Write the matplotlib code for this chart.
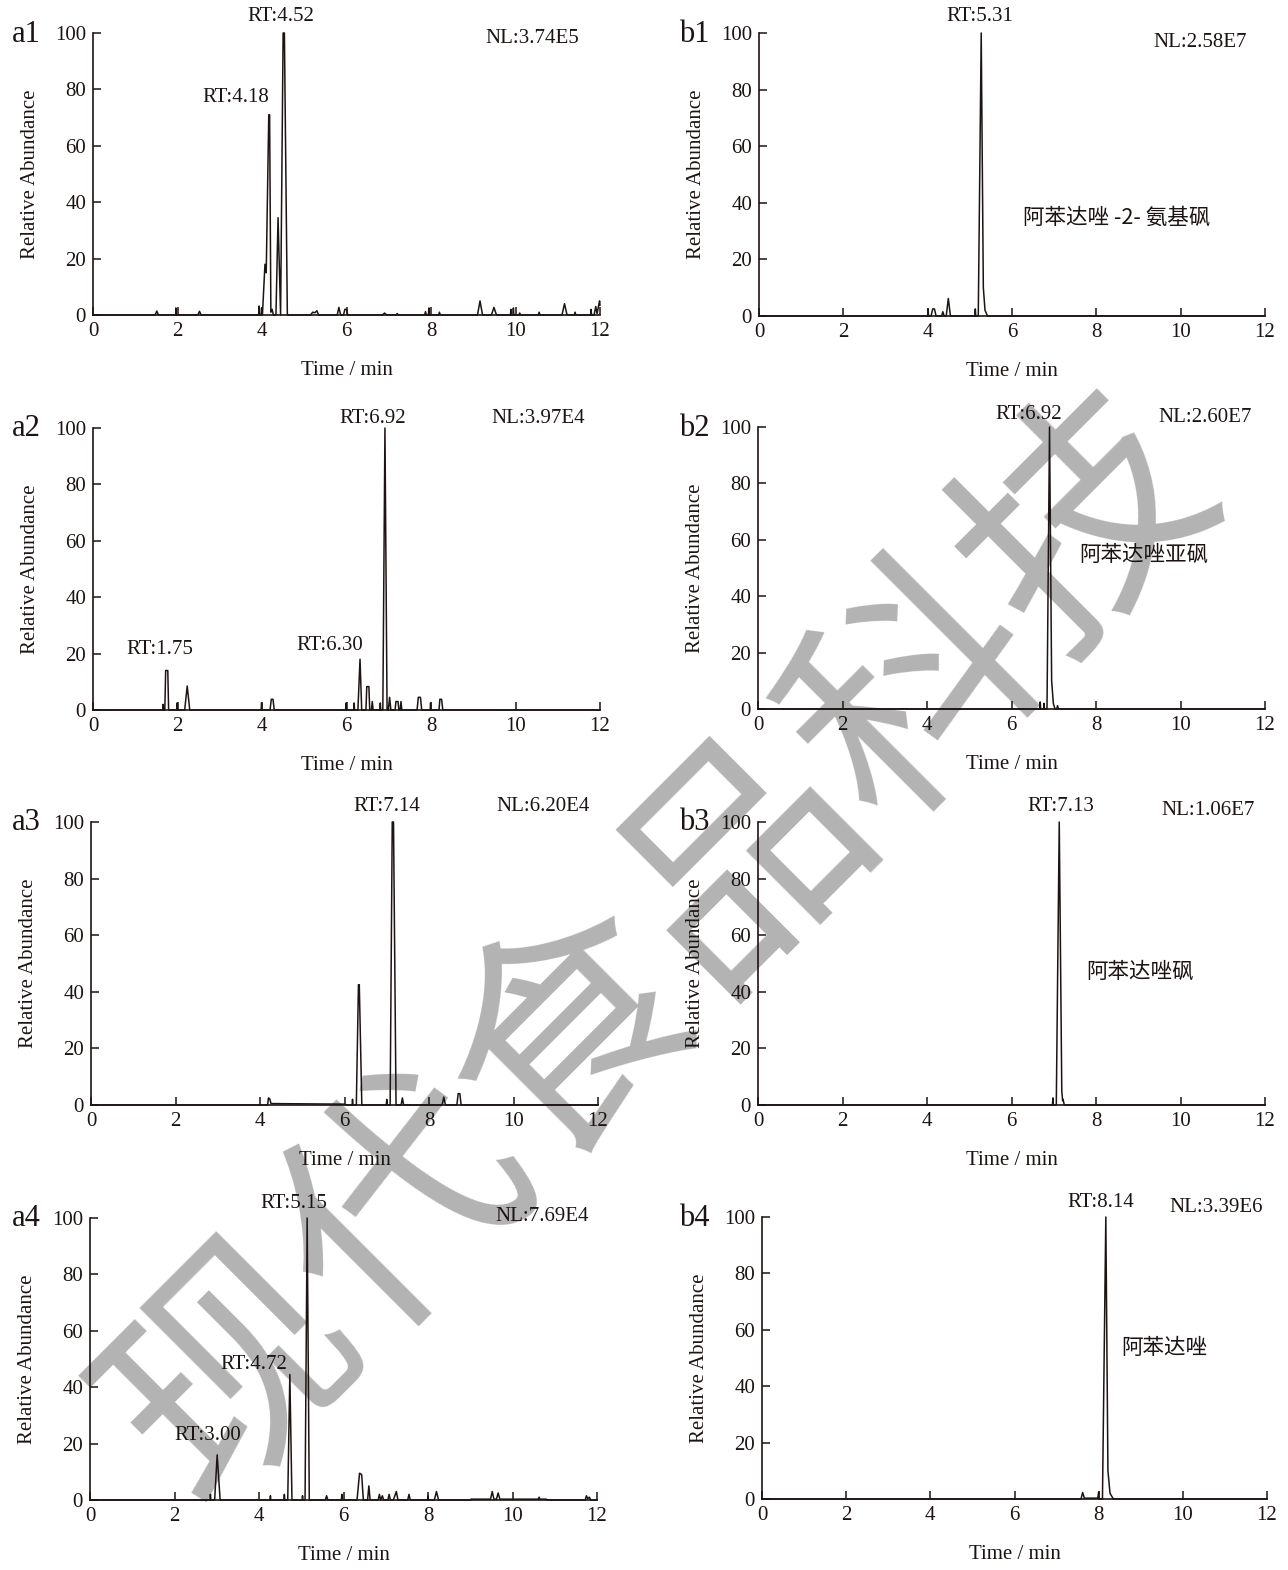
import matplotlib
matplotlib.use("Agg")
import matplotlib.pyplot as plt

plt.rcParams['font.family'] = ['Liberation Serif', 'Noto Sans CJK SC', 'DejaVu Sans']

# ---------------- data ----------------
A1_T = [0, 1.47, 1.51, 1.55, 1.96, 1.96, 1.97, 2.48, 2.52, 2.56, 3.92, 3.93, 3.94, 3.98, 3.99, 4.00,
        4.01, 4.07, 4.10, 4.16, 4.18, 4.21, 4.24, 4.27, 4.33, 4.38, 4.44, 4.50, 4.53, 4.60,
        5.15, 5.20, 5.25, 5.30, 5.34, 5.78, 5.82, 5.86, 5.93, 5.96, 6.00, 6.03, 6.85, 6.90, 6.95,
        7.17, 7.20, 7.23, 7.85, 7.87, 7.89, 7.94, 7.95, 7.96, 8.18, 8.20, 8.22, 9.10, 9.16, 9.22,
        9.43, 9.49, 9.55, 9.88, 9.89, 9.90, 9.94, 9.95, 9.96, 10.08, 10.10, 10.12, 10.54, 10.56, 10.58,
        11.10, 11.16, 11.22, 11.39, 11.41, 11.43, 11.78, 11.79, 11.80, 11.86, 11.90, 11.93, 11.99, 12.0]
A1_Y = [0, 0, 1.4, 0, 0, 2.5, 0, 0, 1.3, 0, 0, 3.2, 0, 0, 2.5, 0,
        0, 18, 15, 71, 71, 1, 2, 0, 0, 34.5, 0, 100, 100, 0,
        0, 1, 0.8, 1.5, 0, 0, 2.7, 0, 0, 2, 2, 0, 0, 0.7, 0,
        0, 0.5, 0, 0, 1.2, 0, 0, 2.5, 0, 0, 1, 0, 0, 5, 0,
        0, 2.7, 0, 0, 2, 0, 0, 2.5, 0, 0, 0.7, 0, 0, 1, 0,
        0, 4, 0, 0, 1, 0, 0, 2, 0, 0, 3, 0.5, 5, 3.5]

A2_T = [0, 1.65, 1.66, 1.67, 1.70, 1.72, 1.77, 1.79, 1.98, 1.99, 2.00, 2.17, 2.23, 2.29,
        3.98, 3.99, 4.00, 4.19, 4.22, 4.26, 4.29, 5.98, 5.99, 6.00, 6.17, 6.18, 6.19,
        6.27, 6.32, 6.36, 6.46, 6.48, 6.53, 6.55, 6.59, 6.61, 6.63, 6.79, 6.80, 6.81,
        6.86, 6.91, 6.96, 6.99, 7.02, 7.05, 7.15, 7.17, 7.22, 7.24, 7.27, 7.29, 7.31,
        7.67, 7.70, 7.75, 7.78, 7.98, 7.99, 8.00, 8.19, 8.21, 8.25, 8.28, 12.0]
A2_Y = [0, 0, 2, 0, 0, 14, 14, 0, 0, 2.5, 0, 0, 8.5, 0,
        0, 2.5, 0, 0, 3.8, 3.8, 0, 0, 2.5, 0, 0, 2.5, 0,
        0, 18, 0, 0, 8.3, 8.3, 0, 0, 3, 0, 0, 2.5, 0,
        0, 100, 0, 0, 4.5, 0, 0, 3, 3, 0, 0, 3, 0,
        0, 4.5, 4.5, 0, 0, 2.5, 0, 0, 3.8, 3.8, 0, 0]

A3_T = [0, 4.18, 4.20, 4.23, 4.26, 6.00, 6.05, 6.18, 6.19, 6.20, 6.28, 6.33, 6.35, 6.41,
        6.99, 7.00, 7.01, 7.08, 7.13, 7.16, 7.22, 7.34, 7.37, 7.40, 8.31, 8.35, 8.39,
        8.66, 8.69, 8.73, 8.76, 12.0]
A3_Y = [0, 0, 2.5, 2.2, 0.5, 0.3, 0, 0, 2, 0, 0, 42.5, 42.5, 0,
        0, 2, 0, 0, 100, 100, 0, 0, 2.5, 0, 0, 2.8, 0,
        0, 4, 4, 0, 0]

A4_T = [0, 2.84, 2.85, 2.86, 2.95, 3.01, 3.08, 4.26, 4.27, 4.28, 4.59, 4.60, 4.61,
        4.68, 4.73, 4.78, 5.02, 5.03, 5.04, 5.09, 5.14, 5.19, 5.57, 5.60, 5.63,
        5.95, 5.96, 5.97, 6.32, 6.38, 6.43, 6.47, 6.57, 6.60, 6.63, 6.82, 6.85, 6.88,
        6.92, 6.95, 7.05, 7.08, 7.11, 7.18, 7.25, 7.29, 7.52, 7.55, 7.58, 7.99, 8.00, 8.01,
        8.15, 8.20, 8.25, 9.00, 9.02, 9.48, 9.52, 9.56, 9.62, 9.66, 9.70, 10.61, 10.63, 10.65,
        10.80, 10.82, 11.72, 11.75, 11.78, 11.82, 11.85, 12.0]
A4_Y = [0, 0, 2, 0, 0, 16, 0, 0, 1.5, 0, 0, 2, 0,
        0, 44.5, 0, 0, 1.5, 0, 0, 100, 0, 0, 1.5, 0,
        0, 2, 0, 0, 9.5, 9, 0, 0, 5, 0, 0, 2, 0,
        1.5, 0, 0, 2, 0, 0, 3, 0, 0, 2, 0, 0, 1.5, 0,
        0, 3, 0, 0, 0.3, 0.3, 3, 0.3, 0.3, 2.5, 0.3, 0.3, 1, 0.3,
        0.3, 0, 0, 1.5, 0.5, 1, 0, 0]

B1_T = [0, 4.00, 4.01, 4.02, 4.08, 4.12, 4.16, 4.20, 4.33, 4.36, 4.39, 4.44, 4.49, 4.54,
        5.12, 5.13, 5.14, 5.20, 5.27, 5.32, 5.36, 5.42, 12.0]
B1_Y = [0, 0, 2.5, 0, 0, 2.5, 2.5, 0, 0, 1.5, 0, 0, 6.2, 0,
        0, 2.5, 0, 0, 100, 10, 2, 0, 0]

B2_T = [0, 6.67, 6.68, 6.69, 6.76, 6.77, 6.78, 6.84, 6.90, 6.95, 6.99, 7.03, 7.07, 7.09, 7.11, 12.0]
B2_Y = [0, 0, 2.5, 0, 0, 2, 0, 0, 100, 10, 2, 0, 0, 1.2, 0, 0]

B3_T = [0, 6.97, 6.98, 6.99, 7.06, 7.13, 7.19, 7.21, 7.22, 7.25, 12.0]
B3_Y = [0, 0, 2.5, 0, 0, 100, 5, 1.5, 2, 0, 0]

B4_T = [0, 7.58, 7.62, 7.66, 7.98, 8.00, 8.01, 8.09, 8.17, 8.22, 8.27, 8.35, 12.0]
B4_Y = [0, 0, 2.3, 0.3, 0.3, 2.5, 0, 0, 100, 10, 2, 0, 0]

PANEL_LABELS = ['a1', 'a2', 'a3', 'a4', 'b1', 'b2', 'b3', 'b4']
NL_TEXT = ['NL:3.74E5', 'NL:3.97E4', 'NL:6.20E4', 'NL:7.69E4',
           'NL:2.58E7', 'NL:2.60E7', 'NL:1.06E7', 'NL:3.39E6']
RT_LABELS = [
    [('RT:4.52', 4.45, 106), ('RT:4.18', 3.38, 77)],
    [('RT:6.92', 6.63, 103.5), ('RT:1.75', 1.59, 21.6), ('RT:6.30', 5.61, 22.7)],
    [('RT:7.14', 7.0, 105.6)],
    [('RT:5.15', 4.83, 105), ('RT:4.72', 3.88, 47.9), ('RT:3.00', 2.79, 23)],
    [('RT:5.31', 5.24, 106)],
    [('RT:6.92', 6.41, 104.3)],
    [('RT:7.13', 7.17, 105.6)],
    [('RT:8.14', 8.06, 105)],
]
NL_POS = [(10.4, 98), (10.53, 103.5), (10.7, 105.6), (10.7, 100.7),
          (10.46, 96.8), (10.58, 103.2), (10.65, 104), (10.8, 103.2)]
COMPOUNDS = [None, None, None, None,
             ('阿苯达唑 -2- 氨基砜', 8.49, 34.6), ('阿苯达唑亚砜', 9.14, 54.6),
             ('阿苯达唑砜', 9.04, 47), ('阿苯达唑', 9.55, 53.5)]
X_TICKS = [0, 2, 4, 6, 8, 10, 12]
Y_TICKS = [0, 20, 40, 60, 80, 100]
WATERMARK = '现代食品科技'

SERIES = [(A1_T, A1_Y), (A2_T, A2_Y), (A3_T, A3_Y), (A4_T, A4_Y),
          (B1_T, B1_Y), (B2_T, B2_Y), (B3_T, B3_Y), (B4_T, B4_Y)]

# ---------------- layout (pixels) ----------------
W, H = 1288, 1570
RECTS = [(93, 600, 33, 315), (93, 600, 428, 710), (91, 598, 822, 1105), (90, 597, 1218, 1500),
         (759, 1265, 33, 316), (758, 1265, 427, 709), (758, 1265, 822, 1105), (762, 1267, 1217, 1499)]

fig = plt.figure(figsize=(W / 100, H / 100), dpi=100)
LC = '#1c1412'

for i, (l, r, t, b) in enumerate(RECTS):
    ax = fig.add_axes([l / W, 1 - b / H, (r - l) / W, (b - t) / H])
    ax.set_facecolor('none')
    ax.set_zorder(5)
    xs, ys = SERIES[i]
    ax.plot(xs, ys, color=LC, lw=1.1, clip_on=False)
    ax.set_xlim(0, 12)
    ax.set_ylim(0, 100)
    ax.set_xticks(X_TICKS)
    ax.set_yticks(Y_TICKS)
    for s in ['top', 'right']:
        ax.spines[s].set_visible(False)
    for s in ['left', 'bottom']:
        ax.spines[s].set_linewidth(1.2)
        ax.spines[s].set_color(LC)
    ax.tick_params(direction='in', length=6, width=1.1, labelsize=15, colors=LC, pad=5)
    ax.set_ylabel('Relative Abundance', fontsize=15, color=LC)
    ax.set_xlabel('Time / min', fontsize=15, color=LC)
    ax.yaxis.set_label_coords(-53 / (r - l), 0.5)
    ax.xaxis.set_label_coords(0.5, -46 / (b - t))
    for txt, x, y in RT_LABELS[i]:
        ax.text(x, y, txt, ha='center', va='center', fontsize=15, color=LC, clip_on=False)
    nx, ny = NL_POS[i]
    ax.text(nx, ny, NL_TEXT[i], ha='center', va='center', fontsize=15, color=LC, clip_on=False)
    if COMPOUNDS[i] is not None:
        ctxt, cx, cy = COMPOUNDS[i]
        ax.text(cx, cy, ctxt, ha='center', va='center', fontsize=15.5, color=LC,
                family=['Noto Sans CJK SC', 'DejaVu Sans'], clip_on=False)
    lx = 26 if i < 4 else 694
    fig.text(lx / W, 1 - (t + 1) / H, PANEL_LABELS[i], ha='center', va='center',
             fontsize=22, color=LC)

# watermark
fig.text(662 / W, 1 - 948 / H, WATERMARK, rotation=45, ha='center', va='center',
         fontsize=174, color='#b3b3b3', family=['Noto Sans CJK SC'], weight='normal', zorder=1)

fig.savefig('out.png', dpi=100)
